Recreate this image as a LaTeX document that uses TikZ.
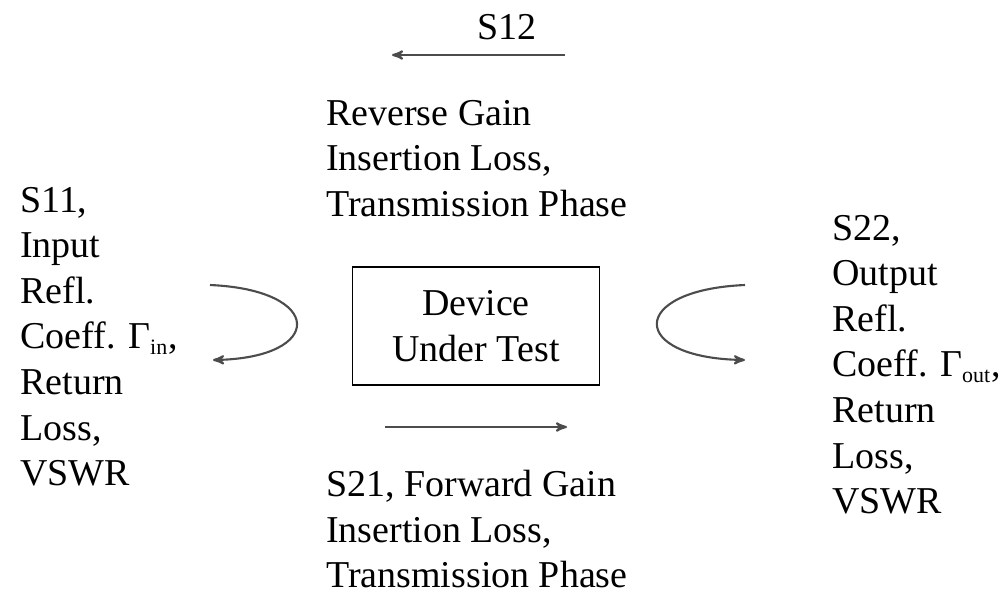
\documentclass[tikz,border=0pt]{standalone}
\usepackage{fontspec}
\setmainfont{Liberation Serif}
\usetikzlibrary{arrows,positioning}

\newcommand{\lowsub}[1]{\textsubscript{\fontsize{12.5}{12.5}\selectfont #1}}

\begin{document}
\begin{tikzpicture}[
	x=0.02cm, y=-0.02cm,
	>=stealth',
	font=\fontsize{21.6}{25.9}\selectfont,
	txt/.style={
		align=left,
		inner sep=0pt,
		anchor=north west
	},
	dut/.style={
		rectangle,
		draw=black,
		line width=1pt,
		align=center,
		minimum width=4.94cm,
		minimum height=2.36cm
	},
	conn/.style={
		->,
		line width=1.2pt,
		draw=black!70
	}
	]
	\useasboundingbox (0,0) rectangle (1003,594);
	
	% the device in the middle
	\node [dut] (dut) at (476,326) {Device\\Under Test};
	
	% the texts round it
	\node [anchor=base, inner sep=0pt] (s12) at (507,40) {S12};
	\node [txt] (reverse) at (326,100) {Reverse Gain\\Insertion Loss,\\Transmission Phase};
	\node [txt] (forward) at (326,470) {S21, Forward Gain\\Insertion Loss,\\Transmission Phase};
	\node [txt] (input) at (20,187) {S11,\\Input\\Refl.\\Coeff. Γ\lowsub{in},\\Return\\Loss,\\VSWR};
	\node [txt] (output) at (832,215) {S22,\\Output\\Refl.\\Coeff. Γ\lowsub{out},\\Return\\Loss,\\VSWR};
	
	% the arrows
	\coordinate (s12 from) at (565,55);
	\coordinate (s12 to) at (392,55);
	\coordinate (s21 from) at (385,427);
	\coordinate (s21 to) at (567,427);
	\coordinate (s11 from) at (210,285);
	\coordinate (s11 to) at (213,360);
	\coordinate (s22 from) at (745,285);
	\coordinate (s22 to) at (745,360);
	
	\draw [conn] (s12 from) -- (s12 to);
	\draw [conn] (s21 from) -- (s21 to);
	\draw [conn] (s11 from) .. controls (325,290) and (325,358) .. (s11 to);
	\draw [conn] (s22 from) .. controls (628,290) and (628,358) .. (s22 to);
	
\end{tikzpicture}
\end{document}
